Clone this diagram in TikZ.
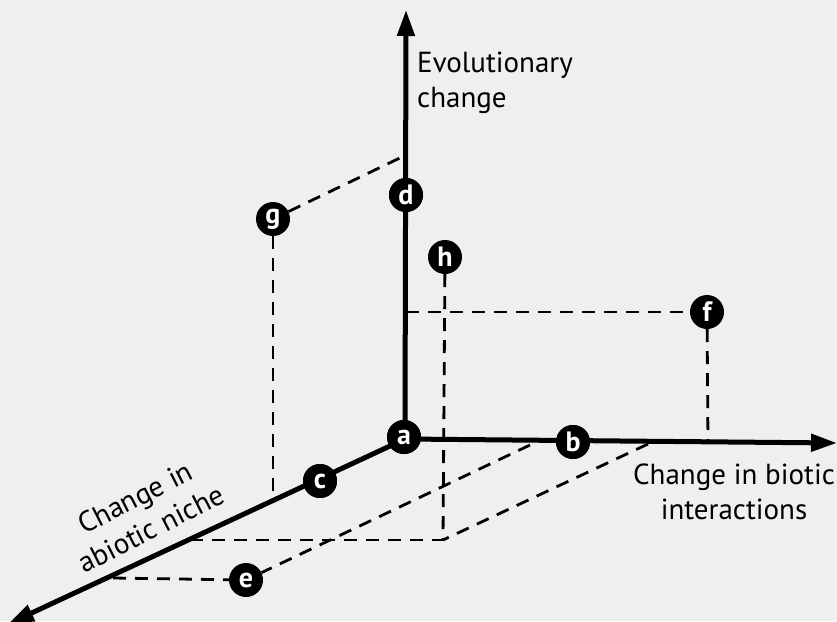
\documentclass[tikz,border=0pt]{standalone}
\usepackage{fontspec}
\setmainfont{PT Sans}
\usetikzlibrary{arrows.meta}
\definecolor{bg}{HTML}{EFEFEF}
\begin{document}
\begin{tikzpicture}[x=1pt,y=-1pt,
  axis/.style={line width=5pt,-{Triangle[length=26pt,width=17pt]}},
  dsh/.style={line width=2.8pt,dash pattern=on 13pt off 9pt},
  pt/.style={circle,fill=black,inner sep=0pt,minimum size=34pt,text=white,font=\fontsize{28}{28}\selectfont\bfseries},
  lab/.style={font=\fontsize{29}{35}\selectfont,inner sep=0pt}]
\fill[bg] (0,0) rectangle (837,621);
\useasboundingbox (0,0) rectangle (837,621);
% coordinates
\coordinate (o) at (405,439);
\coordinate (vt) at (406,10);
\coordinate (ht) at (837,443);
\coordinate (dt) at (8,624);
\coordinate (gv) at (406,155);
\coordinate (gb) at (273,500);
\coordinate (hb) at (443,540);
\coordinate (fv) at (406,312);
\coordinate (fb) at (708,443);
\coordinate (b1) at (530,445);
\coordinate (b2) at (648,444);
\coordinate (cl) at (190,540);
\coordinate (el) at (113,578);
% nodes positions
\node[pt] (a) at (404,437) {a};
\node[pt] (b) at (573,442) {b};
\node[pt] (c) at (320,481) {c};
\node[pt] (d) at (406,195) {d};
\node[pt] (e) at (246,580) {e};
\node[pt] (f) at (707,312) {f};
\node[pt] (g) at (273,219) {g};
\node[pt] (h) at (445,257) {h};
% dashed
\draw[dsh] (g) -- (gv);
\draw[dsh] (g) -- (gb);
\draw[dsh] (h) -- (hb);
\draw[dsh] (fv) -- (f);
\draw[dsh] (f) -- (fb);
\draw[dsh] (b1) -- (e);
\draw[dsh] (b2) -- (hb);
\draw[dsh] (cl) -- (hb);
\draw[dsh] (el) -- (e);
% axes
\draw[axis] (o) -- (vt);
\draw[axis] (o) -- (ht);
\draw[axis] (o) -- (dt);
% redraw nodes on top
\node[pt] at (a) {a};
\node[pt] at (b) {b};
\node[pt] at (c) {c};
\node[pt] at (d) {d};
% labels
\node[lab,anchor=north west,align=left] (ev) at (417,52) {Evolutionary\\change};
\node[lab,align=center] (bi) at (734,492) {Change in biotic\\interactions};
\node[lab,align=center,rotate=27] (ab) at (143,513) {Change in\\abiotic niche};
\end{tikzpicture}
\end{document}
